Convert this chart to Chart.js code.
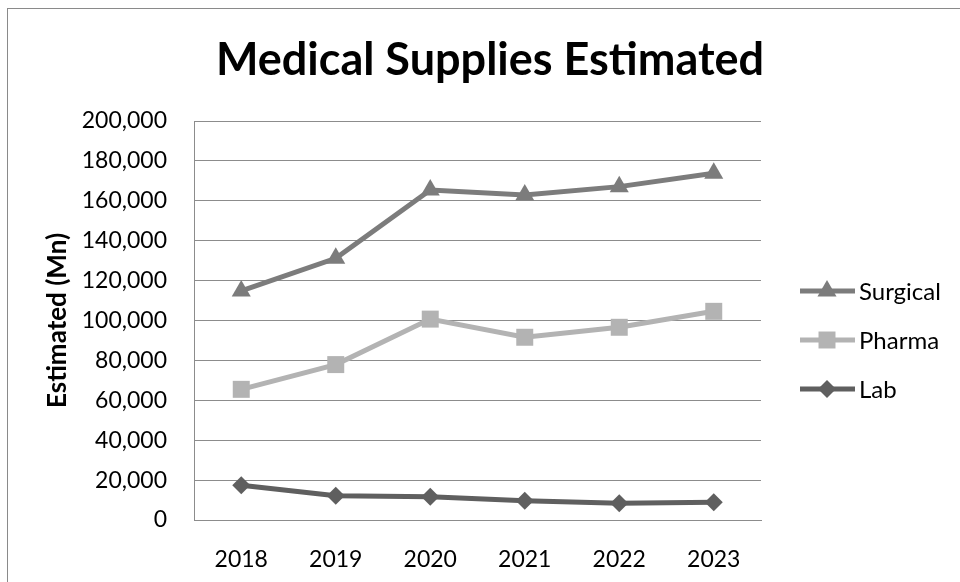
<!DOCTYPE html>
<html lang="en">
<head>
  <meta charset="UTF-8" />
  <title>Medical Supplies Estimated</title>
  <script src="https://cdn.jsdelivr.net/npm/chart.js"></script>
  <style>
    html, body {
      margin: 0;
      background: #fff;
      overflow: hidden;
    }

    .frame {
      position: relative;
      width: 960px;
      height: 582px;
      overflow: hidden;
    }

    .border {
      position: absolute;
      left: 7px;
      top: 8px;
      width: 1000px;
      height: 700px;
      border: 1px solid #8a8a8a;
    }

    canvas {
      position: absolute;
      left: 0;
      top: 0;
    }
  </style>
</head>
<body>
  <div class="frame">
    <div class="border"></div>
    <canvas id="supplyChart" width="960" height="582"></canvas>
  </div>

  <script>
    // data
    const chartTitle = 'Medical Supplies Estimated';
    const axisTitle = 'Estimated (Mn)';
    const years = ['2018', '2019', '2020', '2021', '2022', '2023'];
    const surgical = [114800, 131200, 165400, 162900, 167100, 173800];
    const pharma = [65500, 77900, 100700, 91600, 96600, 104600];
    const lab = [17400, 12200, 11700, 9700, 8400, 8900];
    const yMin = 0;
    const yMax = 200000;
    const yStep = 20000;

    const fontFamily = "Lato, 'Open Sans', sans-serif";
    const gridGray = '#8c8c8c';

    function makeSeries(label, values, color, shape, radius) {
      return {
        label: label,
        data: values,
        borderColor: color,
        backgroundColor: color,
        borderWidth: 5,
        pointStyle: shape,
        pointRadius: radius,
        pointHoverRadius: radius,
        pointBorderWidth: 0,
        tension: 0
      };
    }

    // title drawn above the plot
    const titlePlugin = {
      id: 'refTitle',
      afterDraw(chart) {
        const c = chart.ctx;
        c.save();
        c.fillStyle = '#000';
        c.font = 'bold 45px ' + fontFamily;
        c.textAlign = 'center';
        c.textBaseline = 'middle';
        c.fillText(chartTitle, 490, 60);
        c.restore();
      }
    };

    // legend with line + marker like the original
    const lineLegend = {
      id: 'lineLegend',
      afterDraw(chart) {
        const c = chart.ctx;
        chart.data.datasets.forEach(function (ds, i) {
          const y = 291 + i * 49;
          c.save();
          c.strokeStyle = ds.borderColor;
          c.lineWidth = ds.borderWidth;
          c.beginPath();
          c.moveTo(800, y);
          c.lineTo(855, y);
          c.stroke();
          c.fillStyle = ds.backgroundColor;
          Chart.helpers.drawPoint(c, {
            pointStyle: ds.pointStyle,
            radius: ds.pointRadius,
            rotation: 0,
            borderWidth: 0
          }, 827, y);
          c.fillStyle = '#000';
          c.font = '24px ' + fontFamily;
          c.textAlign = 'left';
          c.textBaseline = 'middle';
          c.fillText(ds.label, 859, y + 1);
          c.restore();
        });
      }
    };

    const ctx = document.getElementById('supplyChart').getContext('2d');
    const supplyChart = new Chart(ctx, {
      type: 'line',
      data: {
        labels: years,
        datasets: [
          makeSeries('Surgical', surgical, '#7c7c7c', 'triangle', 11),
          makeSeries('Pharma', pharma, '#b3b3b3', 'rect', 12),
          makeSeries('Lab', lab, '#5f5f5f', 'rectRot', 9)
        ]
      },
      options: {
        responsive: false,
        animation: false,
        layout: {
          padding: { top: 121, right: 199, bottom: 0, left: 0 }
        },
        plugins: {
          legend: { display: false },
          title: { display: false },
          tooltip: { enabled: false }
        },
        scales: {
          x: {
            offset: true,
            grid: { display: false },
            border: { display: true, color: gridGray, width: 1 },
            ticks: {
              color: '#000',
              padding: 18,
              maxRotation: 0,
              font: { family: fontFamily, size: 23 }
            },
            afterFit(scale) {
              scale.height = 62;
            }
          },
          y: {
            min: yMin,
            max: yMax,
            grid: { color: gridGray, lineWidth: 1, drawTicks: false },
            border: { display: true, color: gridGray, width: 1 },
            ticks: {
              stepSize: yStep,
              color: '#000',
              padding: 27,
              font: { family: fontFamily, size: 23 },
              callback: function (v) { return v.toLocaleString('en-US'); }
            },
            title: {
              display: true,
              text: axisTitle,
              color: '#000',
              padding: { top: 42, bottom: 0 },
              font: { family: fontFamily, size: 26, weight: 'bold' }
            },
            afterFit(scale) {
              scale.width = 194;
            }
          }
        }
      },
      plugins: [titlePlugin, lineLegend]
    });
  </script>
</body>
</html>
